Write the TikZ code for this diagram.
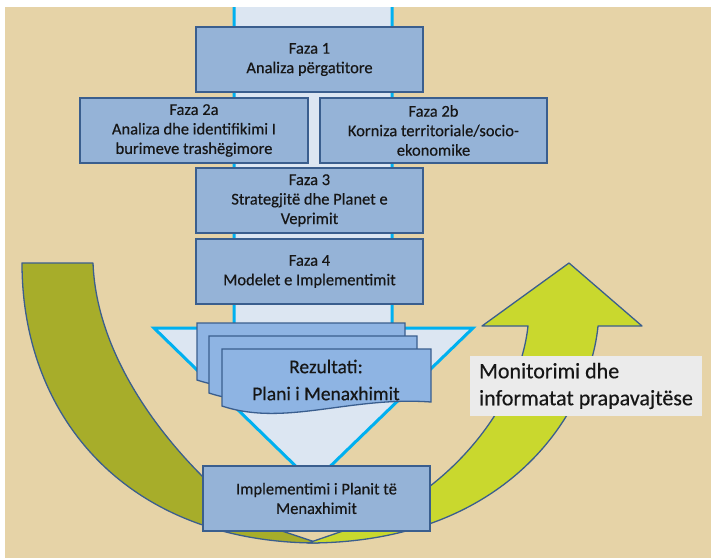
\documentclass[tikz,border=0pt]{standalone}
\usepackage{fontspec}
\setmainfont{Carlito}[FakeBold=0.4]

\definecolor{parch}{HTML}{E6D3A7}
\definecolor{boxfill}{HTML}{95B3D7}
\definecolor{docfill}{HTML}{8EB4E3}
\definecolor{boxline}{HTML}{3A5E8E}
\definecolor{funnelfill}{HTML}{DCE6F2}
\definecolor{funnelline}{HTML}{00B0F0}
\definecolor{bandolive}{HTML}{A7AD2A}
\definecolor{bandlime}{HTML}{C9D82E}
\definecolor{inkdark}{HTML}{161616}

\tikzset{
  phase/.style={draw=boxline, fill=boxfill, line width=1.5pt, minimum width=227pt,
    minimum height=65pt, inner sep=2pt, align=center, text=inkdark,
    font=\fontsize{16.5}{19.5}\selectfont},
  band/.style={draw=boxline, line width=1.3pt, line join=round},
  docsheet/.style={draw=boxline, fill=docfill, line width=1.3pt},
}

% one sheet of the stacked result: left, top, right
\newcommand{\wavysheet}[3]{%
  \filldraw[docsheet] (#1,#2) -- (#3,#2) -- (#3,{#2+53})
    .. controls ({#3-81},{#2+47}) and ({#1+63},{#2+78}) .. (#1,{#2+57}) -- cycle;}

\begin{document}
\begin{tikzpicture}[x=1pt,y=-1pt]
  \useasboundingbox (0,0) rectangle (711,558);
  \fill[white] (0,0) rectangle (711,558);
  \fill[parch] (5,7) rectangle (711,558);

  % the two halves of the feedback loop
  \filldraw[band,fill=bandolive] (22,263) -- (93,263)
    .. controls (97,370) and (185,470) .. (255,522) -- (318,543)
    .. controls (130,543) and (22,420) .. (22,263) -- cycle;
  \filldraw[band,fill=bandlime] (528,326) -- (482,326) -- (569,263) -- (642,326) -- (598,326)
    .. controls (590,410) and (510,543) .. (308,543) -- (375,520)
    .. controls (460,480) and (520,400) .. (528,326) -- cycle;

  % funnel behind the phases
  \filldraw[draw=funnelline, fill=funnelfill, line width=3pt, line join=miter]
    (234,7) -- (234,328) -- (154,328) -- (313,483) -- (473,328) -- (392,328) -- (392,7);

  \node[phase] at (309.5,59.5) (f1) {Faza 1\\Analiza përgatitore};
  \node[phase, minimum width=228pt] at (194,130.5) (f2a) {Faza 2a\\Analiza dhe identifikimi I\\burimeve trashëgimore};
  \node[phase] at (433.5,130.5) (f2b) {Faza 2b\\Korniza territoriale/socio-\\ekonomike};
  \node[phase] at (309.5,200.5) (f3) {Faza 3\\Strategjitë dhe Planet e\\Veprimit};
  \node[phase] at (309.5,271.5) (f4) {Faza 4\\Modelet e Implementimit};

  \wavysheet{197}{323}{405}
  \wavysheet{209}{336}{417}
  \wavysheet{222}{349}{431}
  \node[align=center, text=inkdark, font=\fontsize{19.5}{27}\selectfont] at (326,380) (res) {Rezultati:\\Plani i Menaxhimit};

  \node[phase] at (316.5,498.5) (impl) {Implementimi i Planit të\\Menaxhimit};

  \node[fill=black!8, minimum width=232pt, minimum height=60pt, inner sep=2pt, align=left,
    text=inkdark, font=\fontsize{22}{27}\selectfont] at (586,386) (mon) {Monitorimi dhe\\informatat prapavajtëse};
\end{tikzpicture}
\end{document}
